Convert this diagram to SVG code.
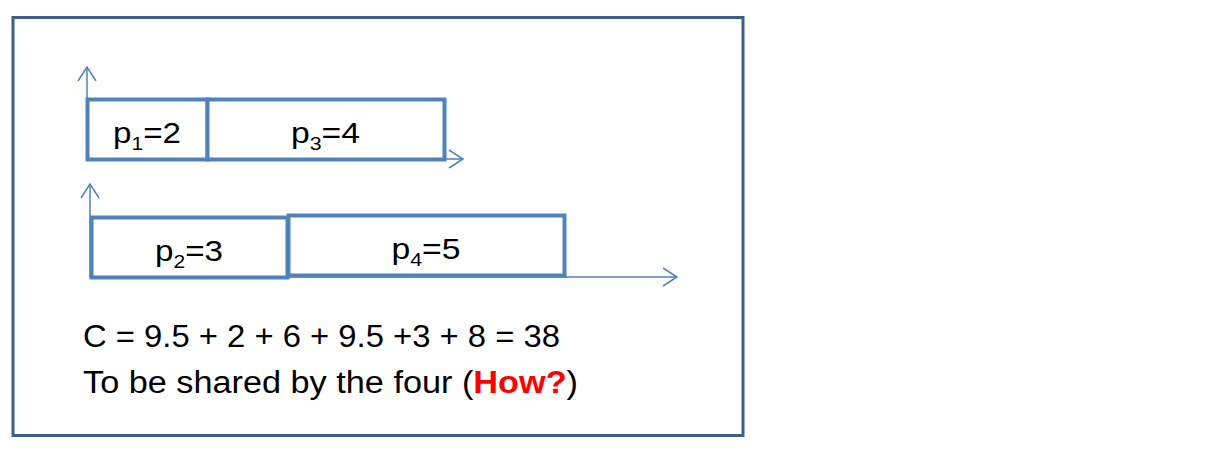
<svg xmlns="http://www.w3.org/2000/svg" width="1211" height="451" viewBox="0 0 1211 451">
<style>
.frame{fill:none;stroke:#3B5E8A;stroke-width:3}
.box{fill:#fff;stroke:#4F81BD;stroke-width:4}
.ax{fill:none;stroke:#4F81BD;stroke-width:1.5}
.lbl{font-family:"Liberation Sans",Arial,sans-serif;font-size:30px;fill:#000;text-anchor:middle}
.txt{font-family:"Liberation Sans",Arial,sans-serif;font-size:31px;fill:#000}
.sub{font-size:19px}
</style>
<defs>
<marker id="ah" viewBox="0 0 16 20" refX="15" refY="10" markerWidth="16" markerHeight="20" markerUnits="userSpaceOnUse" orient="auto">
<path d="M1,1 L15,10 L1,19" fill="none" stroke="#4F81BD" stroke-width="1.5"/>
</marker>
</defs>
<rect class="frame" x="13" y="17.5" width="730" height="418"/>
<g id="connectors">
<line class="ax" x1="87" y1="159" x2="87" y2="67" marker-end="url(#ah)"/>
<line class="ax" x1="87" y1="159" x2="463" y2="159" marker-end="url(#ah)"/>
<line class="ax" x1="90" y1="277" x2="90" y2="184" marker-end="url(#ah)"/>
<line class="ax" x1="90" y1="277" x2="677" y2="277" marker-end="url(#ah)"/>
</g>
<g id="p1">
<rect class="box" x="87.5" y="99.5" width="120" height="60"/>
<text class="lbl" x="147" y="143" textLength="68" lengthAdjust="spacingAndGlyphs">p<tspan class="sub" dy="7">1</tspan><tspan dy="-7">=2</tspan></text>
</g>
<g id="p3">
<rect class="box" x="207.5" y="99.5" width="237" height="60"/>
<text class="lbl" x="325.5" y="143" textLength="69" lengthAdjust="spacingAndGlyphs">p<tspan class="sub" dy="7">3</tspan><tspan dy="-7">=4</tspan></text>
</g>
<g id="p2">
<rect class="box" x="91.5" y="217.5" width="196" height="60"/>
<text class="lbl" x="189" y="261" textLength="68" lengthAdjust="spacingAndGlyphs">p<tspan class="sub" dy="7">2</tspan><tspan dy="-7">=3</tspan></text>
</g>
<g id="p4">
<rect class="box" x="288.5" y="215.5" width="276" height="60"/>
<text class="lbl" x="426" y="259" textLength="69" lengthAdjust="spacingAndGlyphs">p<tspan class="sub" dy="7">4</tspan><tspan dy="-7">=5</tspan></text>
</g>
<g id="caption">
<text class="txt" x="83" y="347" textLength="477" lengthAdjust="spacingAndGlyphs">C = 9.5 + 2 + 6 + 9.5 +3 + 8 = 38</text>
<text class="txt" x="83" y="393" textLength="495" lengthAdjust="spacingAndGlyphs">To be shared by the four (<tspan fill="#FF0000" font-weight="bold">How?</tspan>)</text>
</g>
</svg>
